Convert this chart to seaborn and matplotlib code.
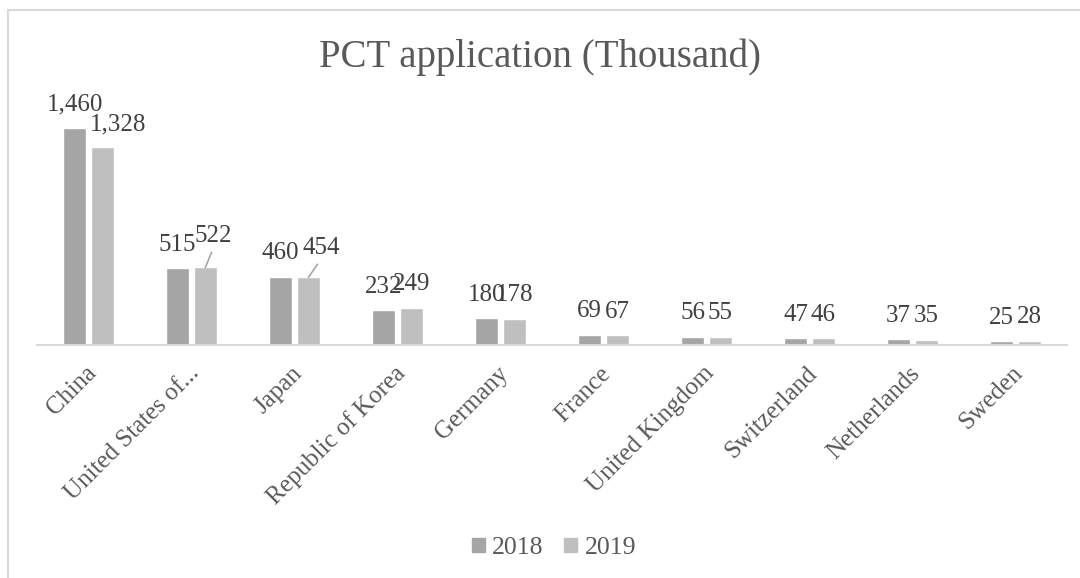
import numpy as np
import pandas as pd
import matplotlib
matplotlib.use("Agg")
import matplotlib.pyplot as plt
import matplotlib.transforms as mtransforms
import seaborn as sns
from matplotlib.patches import Rectangle

# data (thousand PCT applications)
countries = ["China", "United States of...", "Japan", "Republic of Korea", "Germany",
             "France", "United Kingdom", "Switzerland", "Netherlands", "Sweden"]
years = ["2018", "2019"]
apps_2018 = [1460, 515, 460, 232, 180, 69, 56, 47, 37, 25]
apps_2019 = [1328, 522, 454, 249, 178, 67, 55, 46, 35, 28]

df = pd.DataFrame({
    "country": countries * 2,
    "year": ["2018"] * len(countries) + ["2019"] * len(countries),
    "apps": apps_2018 + apps_2019,
})

sns.set_theme(style="white")
plt.rcParams["font.family"] = ["Liberation Serif", "DejaVu Serif"]

fig = plt.figure(figsize=(10.8, 5.78), dpi=100)
ax = fig.add_axes([37 / 1080, 1 - 345 / 578, 1030 / 1080, 238 / 578])

palette = {"2018": "#a5a5a5", "2019": "#bfbfbf"}
sns.barplot(data=df, x="country", y="apps", hue="year", hue_order=years,
            palette=palette, width=0.54, gap=0.17, saturation=1,
            ax=ax, legend=False, errorbar=None)

ax.set_ylim(0, 1600)
ax.set_xlim(-0.5, len(countries) - 0.5)
ax.set_xlabel(""); ax.set_ylabel("")
ax.set_yticks([])
for s in ["top", "right", "left"]:
    ax.spines[s].set_visible(False)
ax.spines["bottom"].set_color("#d9d9d9")
ax.spines["bottom"].set_linewidth(1.5)
ax.tick_params(axis="x", length=0, pad=18)
shift = mtransforms.ScaledTranslation(3 / 72, 0, fig.dpi_scale_trans)
for lab in ax.get_xticklabels():
    lab.set_rotation(45)
    lab.set_ha("right")
    lab.set_va("center")
    lab.set_rotation_mode("anchor")
    lab.set_fontsize(18)
    lab.set_color("#595959")
    lab.set_transform(lab.get_transform() + shift)

# data labels, a few moved aside with leader lines like Excel
moved = {("2019", "China"): (11, 0, False),
         ("2019", "United States of..."): (5.5, 6, True),
         ("2019", "Japan"): (9, 4.5, True)}
for year, cont in zip(years, ax.containers):
    for bar, name in zip(cont, countries):
        val = bar.get_height()
        dx, dy, leader = moved.get((year, name), (0, 0, False))
        xc = bar.get_x() + bar.get_width() / 2
        ax.annotate(f"{int(val):,}", xy=(xc, val), xytext=(dx, 9 + dy),
                    textcoords="offset points", ha="center", va="bottom",
                    fontsize=18, color="#404040", annotation_clip=False,
                    arrowprops=dict(arrowstyle="-", color="#a6a6a6", lw=1.2,
                                    shrinkA=2, shrinkB=0, relpos=(0.55, 0.1))
                    if leader else None)

fig.suptitle("PCT application (Thousand)", x=0.5, y=1 - 39 / 578, va="top",
             fontsize=28, color="#595959")

handles = [Rectangle((0, 0), 1, 1, color=palette[y]) for y in years]
fig.legend(handles, years, loc="center", bbox_to_anchor=(554 / 1080, 1 - 548 / 578),
           ncol=2, frameon=False, fontsize=18.5, labelcolor="#595959",
           handlelength=0.5, handleheight=0.5, handletextpad=0.3, columnspacing=0.8)

fig.patches.append(Rectangle((8 / 1080, -0.1), 1.2, 1.1 - 10 / 578, transform=fig.transFigure,
                             fill=False, edgecolor="#d9d9d9", lw=1.5))

fig.savefig("out.png", dpi=100)
